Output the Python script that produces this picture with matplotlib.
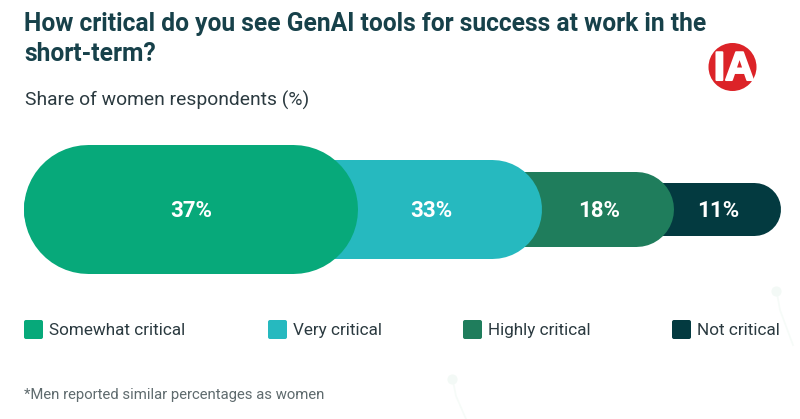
import matplotlib.pyplot as plt
import matplotlib.patheffects as pe
from matplotlib.patches import FancyBboxPatch, Circle

# values and legend
categories = ['Somewhat critical', 'Very critical', 'Highly critical', 'Not critical']
values = [37, 33, 18, 11]
colors = ['#07A97A', '#26B9BF', '#1F7D5C', '#033A40']

# pill layout, the widths in the source are not to scale with the values
pill_left = 24
pill_widths = [334, 184, 132, 107]
pill_heights = [129, 99, 75, 53]
label_x = [191, 431, 599, 718]
legend_x = [24, 268, 463, 672]
mid_y = 209.5

dark = '#17414A'
plt.rcParams['font.family'] = ['Roboto', 'DejaVu Sans']

fig = plt.figure(figsize=(8, 4.19), dpi=100)
ax = fig.add_axes([0, 0, 1, 1])
ax.set_xlim(0, 800)
ax.set_ylim(419, 0)
ax.axis('off')

# faint decoration in the background
ax.plot([452, 456, 466], [376, 396, 419], color='#F6FBF8', lw=1.2, zorder=0)
ax.scatter([452], [379], s=40, color='#F3F9F6', zorder=0)
ax.plot([776, 780, 793], [288, 310, 345], color='#F6FBF8', lw=1.2, zorder=0)
ax.scatter([776], [291], s=40, color='#F3F9F6', zorder=0)

ax.text(24, 24.5, 'How critical do you see GenAI tools for success at work in the',
        fontsize=17.7, fontweight='bold', color=dark, va='center')
ax.text(24, 54, 'short-term?', fontsize=17.7, fontweight='bold', color=dark, va='center')
ax.text(25, 100, 'Share of women respondents (%)', fontsize=13.9, color='#2B3A40', va='center')

# longest pill goes first, every next one sits on top of it
for i in range(len(values) - 1, -1, -1):
    h = pill_heights[i]
    end = pill_left + sum(pill_widths[:i + 1])
    # thick line with round caps gives true half circles, lw is in points
    ax.plot([pill_left + h / 2, end - h / 2], [mid_y, mid_y], color=colors[i],
            lw=h * 72 / 100, solid_capstyle='round', snap=False,
            zorder=2 + (len(values) - i))
    ax.text(label_x[i], mid_y + 1, f'{values[i]}%', color='white', fontsize=16,
            fontweight='bold', ha='center', va='center', zorder=10)

# legend
for i, name in enumerate(categories):
    ax.add_patch(FancyBboxPatch((legend_x[i], 320), 19, 19,
                                boxstyle='round,pad=0,rounding_size=2',
                                fc=colors[i], ec='none'))
    ax.text(legend_x[i] + 25, 330.5, name, fontsize=12.3, color='#2B3A40', va='center')

ax.text(24, 395, '*Men reported similar percentages as women', fontsize=10.7,
        color='#5F6B6E', va='center')

# logo
logo = Circle((732.5, 67), 24, fc='#DC2328', ec='none', zorder=3)
ax.add_patch(logo)
logo_text = ax.text(734, 69, 'IA', color='white', fontsize=29, fontweight='bold',
                    family='Liberation Sans', ha='center', va='center', zorder=4,
                    path_effects=[pe.withStroke(linewidth=1.5, foreground='white')])
logo_text.set_clip_path(logo)

fig.savefig('out.png', dpi=100, facecolor='white')
